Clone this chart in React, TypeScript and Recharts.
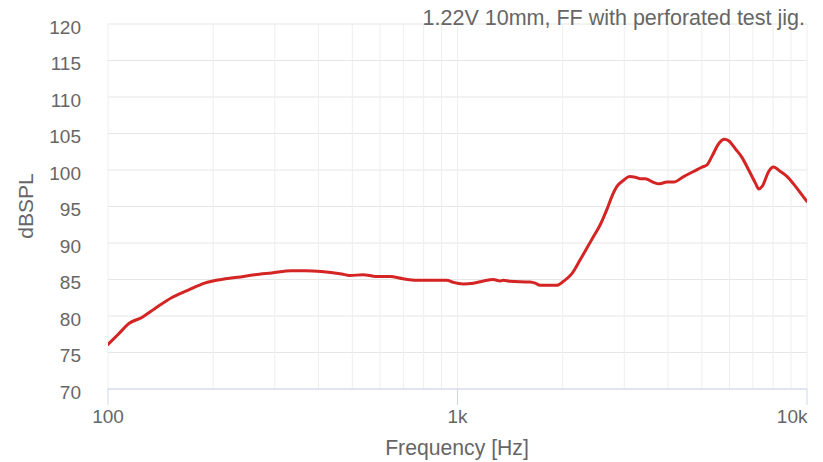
import React from "react";
import { LineChart, Line, XAxis, YAxis, CartesianGrid } from "recharts";

const frequencies = [100,107,115,125,136,152,169,189,211,235,263,294,335,366,408,466,492,537,561,587,641,699,764,834,931,973,1039,1110,1186,1266,1324,1353,1414,1613,1668,1724,1924,2010,2125,2244,2346,2450,2561,2676,2766,2859,2987,3107,3226,3334,3445,3639,3762,3978,4155,4436,4738,5008,5176,5350,5588,5802,5968,6238,6520,6811,7119,7276,7441,7771,8001,8395,8776,9268,9791,10000];
const splValues = [76.1,77.5,79.0,79.8,81.0,82.5,83.5,84.5,85.0,85.3,85.65,85.9,86.2,86.2,86.1,85.75,85.55,85.65,85.55,85.4,85.4,85.1,84.9,84.9,84.9,84.6,84.4,84.5,84.8,85.0,84.8,84.9,84.75,84.65,84.5,84.2,84.2,84.75,85.8,87.7,89.3,90.9,92.5,94.6,96.4,97.75,98.6,99.1,99.0,98.8,98.8,98.3,98.1,98.35,98.35,99.1,99.8,100.4,100.7,101.9,103.6,104.2,104.0,102.9,101.7,100.0,98.2,97.4,97.75,99.8,100.4,99.8,99.1,97.75,96.25,95.7];

const xGridTicks = [100,200,300,400,500,600,700,800,900,1000,2000,3000,4000,5000,6000,7000,8000,9000,10000];
const xMajorTicks = [100, 1000, 10000];
const xMajorLabels = ["100", "1k", "10k"];
const yTicks = [70,75,80,85,90,95,100,105,110,115,120];

const titleText = "1.22V 10mm, FF with perforated test jig.";
const xTitle = "Frequency [Hz]";
const yTitle = "dBSPL";

const data = frequencies.map((f, i) => ({ f, spl: splValues[i] }));

const FONT = "'Liberation Sans', Arial, Helvetica, sans-serif";
const TEXT = "#666666";

const XTick = (props: any) => {
  const { x, y, payload } = props;
  const idx = xMajorTicks.indexOf(payload.value);
  if (idx < 0) return null;
  const last = idx === xMajorTicks.length - 1;
  return (
    <g>
      <line x1={x} x2={x} y1={y} y2={y + 16} stroke="#ccd6eb" strokeWidth={1} />
      <text
        x={last ? x + 0.5 : x}
        y={y + 34}
        textAnchor={last ? "end" : "middle"}
        fontSize={19}
        fontFamily={FONT}
        fill={TEXT}
      >
        {xMajorLabels[idx]}
      </text>
    </g>
  );
};

const YTick = (props: any) => {
  const { x, y, payload } = props;
  return (
    <text x={x} y={y + 9.5} textAnchor="end" fontSize={19} fontFamily={FONT} fill={TEXT}>
      {payload.value}
    </text>
  );
};

export default function App() {
  return (
    <div style={{ position: "absolute", left: 0, top: 0, width: 823, height: 462, background: "#fff" }}>
      <LineChart
        width={823}
        height={462}
        data={data}
        margin={{ top: 24, right: 16, bottom: 0, left: 0 }}
      >
        <CartesianGrid horizontal={true} vertical={false} stroke="#e6e6e6" strokeWidth={1} />
        <CartesianGrid horizontal={false} vertical={true} stroke="#eeeeee" strokeWidth={1} />
        <XAxis
          dataKey="f"
          type="number"
          scale="log"
          domain={[100, 10000]}
          ticks={xGridTicks}
          allowDataOverflow
          interval={0}
          height={73}
          tickLine={false}
          tickSize={0}
          tickMargin={0}
          axisLine={{ stroke: "#ccd6eb", strokeWidth: 1 }}
          tick={<XTick />}
        />
        <YAxis
          type="number"
          domain={[70, 120]}
          ticks={yTicks}
          interval={0}
          width={108}
          axisLine={false}
          tickLine={false}
          tickSize={0}
          tickMargin={27}
          tick={<YTick />}
        />
        <Line
          type="monotone"
          dataKey="spl"
          stroke="#d42424"
          strokeWidth={3}
          dot={false}
          activeDot={false}
          isAnimationActive={false}
          strokeLinejoin="round"
          strokeLinecap="round"
        />
      </LineChart>
      <svg
        width={823}
        height={462}
        style={{ position: "absolute", left: 0, top: 0, pointerEvents: "none" }}
      >
        <text x={805} y={25} textAnchor="end" fontSize={21.5} fontFamily={FONT} fill={TEXT}>
          {titleText}
        </text>
        <text x={457} y={455} textAnchor="middle" fontSize={21.2} fontFamily={FONT} fill={TEXT}>
          {xTitle}
        </text>
        <text
          x={0}
          y={0}
          transform="translate(33,206) rotate(-90)"
          textAnchor="middle"
          fontSize={21}
          fontFamily={FONT}
          fill={TEXT}
        >
          {yTitle}
        </text>
      </svg>
    </div>
  );
}
